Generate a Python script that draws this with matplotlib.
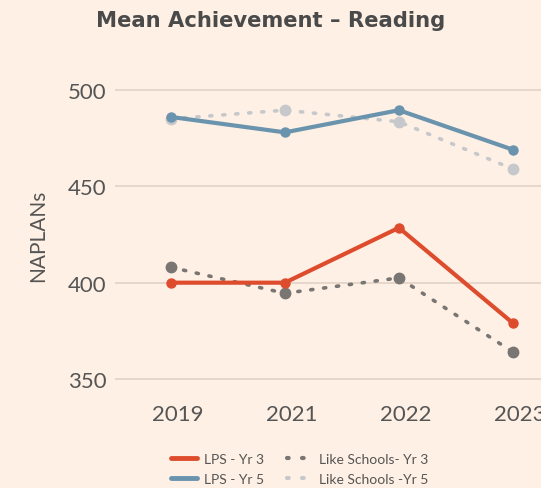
import matplotlib
matplotlib.use("Agg")
import matplotlib.pyplot as plt
import matplotlib.transforms as mtrans
from matplotlib.lines import Line2D

years = ["2019", "2021", "2022", "2023"]
lps_yr3 = [400, 400, 428.5, 379]
lps_yr5 = [486, 478, 489.5, 469]
like_yr3 = [408, 394.5, 402.5, 364]
like_yr5 = [485, 489.5, 483.5, 459]

bg = "#FEF0E4"
txt = "#555555"
red = "#DE4C2E"
blue = "#6A93AE"
dgrey = "#797572"
lgrey = "#C6C8CB"

plt.rcParams['font.family'] = ['Lato', 'DejaVu Sans']

fig = plt.figure(figsize=(5.41, 4.89), dpi=100, facecolor=bg)
ax = fig.add_axes([0.2126, 0.1834, 0.862, 0.670])
ax.set_facecolor(bg)

x = list(range(len(years)))
dots = (0, (0.6, 3.0))

### dotted "like schools" series first, solid LPS on top
ax.plot(x, like_yr5, color=lgrey, lw=2.6, ls=dots, dash_capstyle="round",
        marker="o", ms=7.5, zorder=2)
ax.plot(x, like_yr3, color=dgrey, lw=2.6, ls=dots, dash_capstyle="round",
        marker="o", ms=7.5, zorder=2)
ax.plot(x, lps_yr5, color=blue, lw=3, marker="o", ms=6.5, zorder=3)
ax.plot(x, lps_yr3, color=red, lw=3, marker="o", ms=6.5, zorder=3)

ax.set_xlim(-0.49, 3.6)
ax.set_ylim(340, 510)
ax.set_yticks([350, 400, 450, 500])
ax.set_xticks(x)
ax.set_xticklabels(years)
ax.grid(axis="y", color="#E2D3C5", lw=1.2, zorder=0)
ax.set_axisbelow(True)
for s in ax.spines.values():
    s.set_visible(False)
ax.tick_params(length=0, labelsize=16, labelcolor=txt)
ax.tick_params(axis="x", pad=4)
ax.tick_params(axis="y", pad=6)
ax.set_ylabel("NAPLANs", fontsize=15, color=txt, labelpad=14)

### year labels sit a little right of their points (last one runs off the edge, as in the original)
shift = mtrans.ScaledTranslation(7 / 100, 0, fig.dpi_scale_trans)
for lab in ax.get_xticklabels():
    lab.set_transform(lab.get_transform() + shift)

fig.text(0.5, 0.957, "Mean Achievement \u2013 Reading", ha="center", va="center",
         fontsize=15.2, fontweight="bold", color="#4A4A4A",
         family=["DejaVu Sans"])

handles = [
    Line2D([], [], color=red, lw=3.5, solid_capstyle="round"),
    Line2D([], [], color=blue, lw=3.5, solid_capstyle="round"),
    Line2D([], [], color=dgrey, lw=3, ls=(0, (0.4, 3.2)), dash_capstyle="round"),
    Line2D([], [], color=lgrey, lw=3, ls=(0, (0.4, 3.2)), dash_capstyle="round"),
]
labels = ["LPS - Yr 3", "LPS - Yr 5", "Like Schools- Yr 3", "Like Schools -Yr 5"]
fig.legend(handles, labels, ncol=2, loc="center", bbox_to_anchor=(0.554, 0.039),
           frameon=False, fontsize=10, labelcolor=txt, handlelength=1.9,
           columnspacing=1.65, handletextpad=0.45, labelspacing=0.58)

fig.savefig("out.png", dpi=100, facecolor=bg)
